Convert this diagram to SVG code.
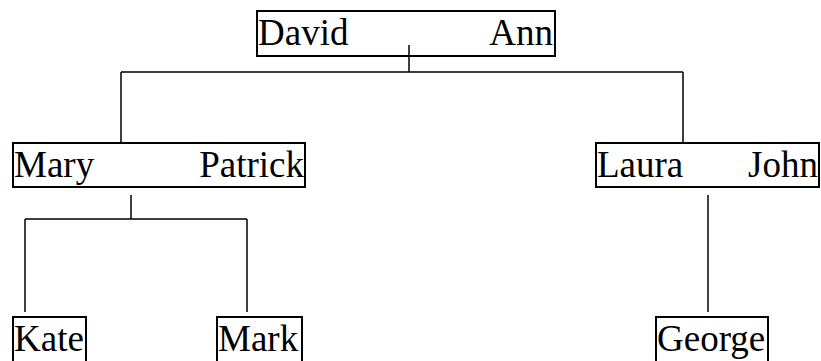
<svg xmlns="http://www.w3.org/2000/svg" width="821" height="361" viewBox="0 0 821 361">
<style>
.box{fill:none;stroke:#000;stroke-width:2}
.t{font-family:"Liberation Serif","Times New Roman",serif;font-size:37px;fill:#000}
.e{text-anchor:end}
.c{fill:none;stroke:#000;stroke-width:1.5}
</style>
<rect width="821" height="361" fill="#fff"/>
<g id="david-ann">
<rect class="box" x="257" y="11" width="298" height="45"/>
<text class="t" x="258" y="45">David</text>
<text class="t e" x="553" y="45">Ann</text>
</g>
<g id="mary-patrick">
<rect class="box" x="13" y="143" width="292" height="44"/>
<text class="t" x="14" y="177">Mary</text>
<text class="t e" x="304" y="177">Patrick</text>
</g>
<g id="laura-john">
<rect class="box" x="596" y="143" width="223" height="44"/>
<text class="t" x="597" y="177">Laura</text>
<text class="t e" x="818" y="177">John</text>
</g>
<g id="kate">
<rect class="box" x="13" y="317" width="73" height="50"/>
<text class="t" x="14" y="351">Kate</text>
</g>
<g id="mark">
<rect class="box" x="217" y="317" width="85" height="50"/>
<text class="t" x="218" y="351">Mark</text>
</g>
<g id="george">
<rect class="box" x="656" y="317" width="112" height="50"/>
<text class="t" x="657" y="351">George</text>
</g>
<g id="connectors">
<path class="c" d="M409 45V72M121 72H683M121 72V143M683 72V143"/>
<path class="c" d="M131 195V219M25 219H247M25 219V312M247 219V312"/>
<path class="c" d="M708 195V312"/>
</g>
</svg>
